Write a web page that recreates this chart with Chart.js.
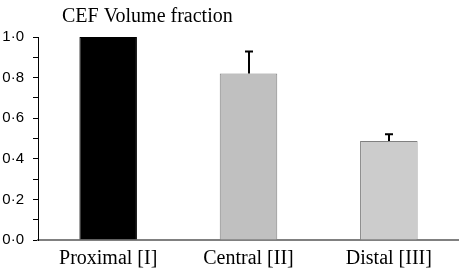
<!DOCTYPE html>
<html>
<head>
<meta charset="utf-8">
<script src="https://cdn.jsdelivr.net/npm/chart.js@4/dist/chart.umd.min.js"></script>
<style>
html,body{margin:0;padding:0;background:#fff;}
#wrap{width:459px;height:276px;position:relative;}
</style>
</head>
<body>
<div id="wrap"><canvas id="c" width="459" height="276"></canvas></div>
<script>
const categories = ["Proximal [I]", "Central [II]", "Distal [III]"];
const values = [1.0, 0.82, 0.488];
const errors = [0, 0.108, 0.033];
const barColors = ["#000000", "#c0c0c0", "#cccccc"];
const borderColors = ["#000000", "#808080", "#808080"];
const titleText = "CEF Volume fraction";

const errorBarPlugin = {
  id: "errorBars",
  afterDatasetsDraw(chart) {
    const ctx = chart.ctx;
    const meta = chart.getDatasetMeta(0);
    const y = chart.scales.y;
    ctx.save();
    ctx.strokeStyle = "#000";
    ctx.lineWidth = 2;
    meta.data.forEach((bar, i) => {
      if (!errors[i]) return;
      const x = Math.round(bar.x);
      const y0 = y.getPixelForValue(values[i]);
      const y1 = y.getPixelForValue(values[i] + errors[i]);
      ctx.beginPath();
      ctx.moveTo(x, y0);
      ctx.lineTo(x, y1);
      ctx.moveTo(x - 4, y1);
      ctx.lineTo(x + 4, y1);
      ctx.stroke();
    });
    ctx.restore();
  }
};

const titlePlugin = {
  id: "topTitle",
  afterDraw(chart) {
    const ctx = chart.ctx;
    ctx.save();
    ctx.font = "20px 'Liberation Serif'";
    ctx.fillStyle = "#000";
    ctx.textBaseline = "alphabetic";
    ctx.textAlign = "left";
    ctx.fillText(titleText, 62, 22);
    ctx.restore();
  }
};

new Chart(document.getElementById("c"), {
  type: "bar",
  data: {
    labels: categories,
    datasets: [{
      data: values,
      backgroundColor: barColors,
      borderColor: borderColors,
      borderWidth: 1,
      categoryPercentage: 1,
      barPercentage: 0.41
    }]
  },
  options: {
    responsive: false,
    animation: false,
    layout: { padding: { top: 37, right: 0, left: 0, bottom: 0 } },
    plugins: { legend: { display: false }, tooltip: { enabled: false }, title: { display: false } },
    scales: {
      x: {
        grid: { display: false, drawTicks: false },
        border: { display: true, color: "#808080", width: 2 },
        ticks: { color: "#000", font: { family: "Liberation Serif", size: 20 }, padding: 7 },
        afterFit(s) { s.height = 36; }
      },
      y: {
        min: 0, max: 1,
        grid: { drawOnChartArea: false, drawTicks: true, tickLength: 5, color: "#000" },
        border: { display: true, color: "#000", width: 1 },
        ticks: {
          stepSize: 0.1,
          autoSkip: false,
          color: "#000",
          font: { family: "Liberation Sans", size: 15 },
          padding: 9,
          callback(v) {
            const r = Math.round(v * 10);
            if (r % 2 !== 0) return "";
            return (r / 10).toFixed(1).replace(".", "\u00B7");
          }
        },
        afterFit(s) { s.width = 38; }
      }
    }
  },
  plugins: [errorBarPlugin, titlePlugin]
});
</script>
</body>
</html>
